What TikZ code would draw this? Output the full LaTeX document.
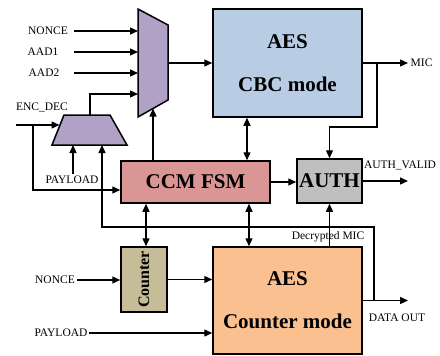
\documentclass[tikz,border=0pt]{standalone}
\usepackage{fontspec}
\setmainfont{Liberation Serif}
\usetikzlibrary{arrows.meta}
\definecolor{cbcblue}{RGB}{184,204,228}
\definecolor{fsmred}{RGB}{217,150,148}
\definecolor{authgray}{RGB}{191,191,191}
\definecolor{ctrtan}{RGB}{196,189,151}
\definecolor{ctrorange}{RGB}{250,192,144}
\definecolor{muxpurple}{RGB}{178,161,199}
\tikzset{
  wire/.style={line width=1.3pt},
  arr/.style={wire,-{Triangle[length=8pt,width=7pt]}},
  dbl/.style={wire,{Triangle[length=8pt,width=7pt]}-{Triangle[length=8pt,width=7pt]}},
  block/.style={draw,line width=1.5pt,inner sep=0pt,align=center,
    font=\bfseries\fontsize{21}{43}\selectfont},
  lbl/.style={font=\fontsize{11.5}{13}\selectfont,inner sep=1.5pt},
  mux/.style={draw,line width=1.5pt,fill=muxpurple,line join=miter}
}
\begin{document}
\begin{tikzpicture}[x=1pt,y=-1pt]
\useasboundingbox (0,0) rectangle (440,356);

% processing blocks
\node[block,fill=cbcblue,minimum width=149pt,minimum height=108pt] (cbc) at (287.5,63) {AES\\CBC mode};
\node[block,fill=fsmred,minimum width=149pt,minimum height=42pt] (ccm) at (195.5,182) {CCM FSM};
\node[block,fill=authgray,minimum width=65pt,minimum height=44pt] (auth) at (329.5,181) {AUTH};
\node[block,fill=ctrtan,minimum width=46pt,minimum height=65pt,
      font=\bfseries\fontsize{16}{18}\selectfont] (counter) at (144,279.5) {\rotatebox{90}{Counter}};
\node[block,fill=ctrorange,minimum width=149pt,minimum height=107pt] (ctr) at (287.5,300.5) {AES\\Counter mode};

% multiplexers
\draw[mux] (138,9) -- (168,25) -- (168,100) -- (138,117) -- cycle;
\draw[mux] (64,115) -- (110,115) -- (127,145) -- (52,145) -- cycle;
\coordinate (m1in1) at (138,31);
\coordinate (m1in2) at (138,52);
\coordinate (m1in3) at (138,73);
\coordinate (m1in4) at (138,94);
\coordinate (m1out) at (168,63);
\coordinate (m1sel) at (153,108.5);
\coordinate (m2out) at (90,115);
\coordinate (m2sel) at (59.5,125);
\coordinate (m2inA) at (73,145);
\coordinate (m2inB) at (102,145);

% helper coordinates for wire routing
\coordinate (inx) at (74,0);
\coordinate (encin) at (16,125);
\coordinate (encj) at (33,125);
\coordinate (micj) at (377,127);
\coordinate (fbc) at (374,227);
\coordinate (outx) at (408,0);
\coordinate (link1) at (247,0);
\coordinate (link2) at (146,0);
\coordinate (link3) at (249,0);

% signal labels
\node[lbl] (nonceA) at (48,31) {NONCE};
\node[lbl] (aad1) at (43,52) {AAD1};
\node[lbl] (aad2) at (44,73) {AAD2};
\node[lbl] (encdec) at (42,107) {ENC\_DEC};
\node[lbl] (payA) at (72,180) {PAYLOAD};
\node[lbl,anchor=west] (mic) at (409,63) {MIC};
\node[lbl] (authvalid) at (400,165) {AUTH\_VALID};
\node[lbl] (decmic) at (328,237) {Decrypted MIC};
\node[lbl] (nonceB) at (55,280) {NONCE};
\node[lbl] (payB) at (61,333) {PAYLOAD};
\node[lbl] (dataout) at (397,318) {DATA OUT};

% mux inputs
\draw[arr] (inx |- m1in1) -- (m1in1);
\draw[arr] (inx |- m1in2) -- (m1in2);
\draw[arr] (inx |- m1in3) -- (m1in3);
\draw[arr] (m2out) |- (m1in4);
\draw[arr] (encin) -- (m2sel);
\draw[arr] (encj) |- ([yshift=-8pt]ccm.west);
\draw[arr] (m2inA |- payA.north) -- (m2inA);
\draw[arr] (ctr.east -| fbc) -- (fbc) -| (m2inB);
\draw[arr] (ccm.north -| m1sel) -- (m1sel);

% CBC path
\draw[arr] (m1out) -- (m1out -| cbc.west);
\draw[arr] (cbc.east) -- (cbc.east -| outx);
\draw[arr] (cbc.east -| micj) -- (micj) -| (auth.north);
\draw[dbl] (cbc.south -| link1) -- (ccm.north -| link1);

% FSM and authentication
\draw[arr] (ccm.east) -- (ccm.east -| auth.west);
\draw[arr] (auth.east) -- (auth.east -| outx);
\draw[dbl] (ccm.south -| link2) -- (counter.north -| link2);
\draw[dbl] (ccm.south -| link3) -- (ctr.north -| link3);
\draw[arr] (ctr.north -| auth.south) -- (auth.south);

% counter path
\draw[arr] (nonceB.east) -- (nonceB.east -| counter.west);
\draw[arr] (counter.east) -- (counter.east -| ctr.west);
\draw[arr] (payB.east) -- (payB.east -| ctr.west);
\draw[arr] (ctr.east) -- (ctr.east -| outx);
\end{tikzpicture}
\end{document}
